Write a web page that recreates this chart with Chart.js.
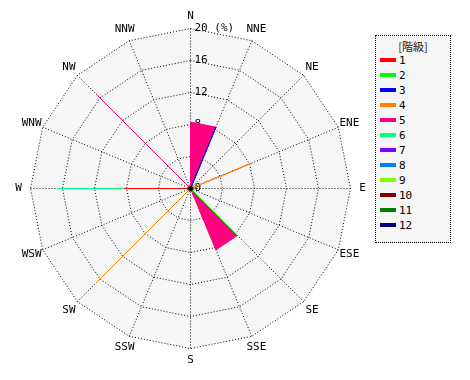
<!DOCTYPE html>
<html><head><meta charset="utf-8">
<script src="https://cdn.jsdelivr.net/npm/chart.js@4"></script>
<style>
html,body{margin:0;padding:0;background:#fff;}
#wrap{position:relative;width:470px;height:380px;}
#legend{position:absolute;left:375px;top:35px;width:74px;height:206px;border:1px dotted #000;background:#f6f6f6;font:11px "DejaVu Sans Mono",monospace;color:#000;}
#legend .title{position:absolute;left:0;width:74px;top:2px;text-align:center;font:11px "Noto Sans CJK JP","DejaVu Sans Mono",monospace;color:#222;}
#legend .row{position:absolute;left:4px;height:12px;line-height:12px;}
#legend .sw{display:inline-block;width:16px;height:4px;vertical-align:middle;margin-right:3px;position:relative;top:-1px;}
</style>
</head><body>
<div id="wrap">
<canvas id="c" width="470" height="380"></canvas>
<div id="legend"><div class="title">[階級]</div></div>
</div>
<script>
const directions = ['N','NNE','NE','ENE','E','ESE','SE','SSE','S','SSW','SW','WSW','W','WNW','NW','NNW'];
const classLabels = ['1','2','3','4','5','6','7','8','9','10','11','12'];
const classColors = ['#ff0000','#00ff00','#0000ff','#ff8000','#ff0080','#00ff80','#8000ff','#0080ff','#80ff00','#800000','#008000','#000080'];
const tickValues = [0,4,8,12,16,20];
const tickLabels = ['0','4','8','12','16','20 (%)'];
//                 N    NNE  NE   ENE  E    ESE  SE   SSE  S    SSW  SW    WSW  W     WNW  NW    NNW
const class1  = [0,   0,   0,   0,   0,   0,   0,   0,   0,   0,   0,    0,   8.3,  0,   0,    0];
const class2  = [0,   0,   0,   0,   0,   0,   8.3, 0,   0,   0,   0,    0,   0,    0,   0,    0];
const class3  = [0,   8.3, 0,   0,   0,   0,   0,   0,   0,   0,   0,    0,   0,    0,   0,    0];
const class4  = [0,   0,   0,   8.3, 0,   0,   0,   0,   0,   0,   16.7, 0,   0,    0,   0,    0];
const class5  = [8.3, 8.3, 0,   0,   0,   0,   8.3, 8.3, 0,   0,   0,    0,   0,    0,   16.7, 0];
const class6  = [0,   0,   0,   0,   0,   0,   0,   0,   0,   0,   0,    0,   16.7, 0,   0,    0];
const class7  = [0,0,0,0,0,0,0,0,0,0,0,0,0,0,0,0];
const class8  = [0,0,0,0,0,0,0,0,0,0,0,0,0,0,0,0];
const class9  = [0,0,0,0,0,0,0,0,0,0,0,0,0,0,0,0];
const class10 = [0,0,0,0,0,0,0,0,0,0,0,0,0,0,0,0];
const class11 = [0,0,0,0,0,0,0,0,0,0,0,0,0,0,0,0];
const class12 = [0,0,0,0,0,0,0,0,0,0,0,0,0,0,0,0];
const classValues = [class1,class2,class3,class4,class5,class6,class7,class8,class9,class10,class11,class12];

// HTML legend
const lg = document.getElementById('legend');
classLabels.forEach((l,i)=>{
  const r = document.createElement('div');
  r.className='row'; r.style.top=(19+i*15)+'px';
  r.innerHTML='<span class="sw" style="background:'+classColors[i]+'"></span>'+l;
  lg.appendChild(r);
});

const MONO = '"DejaVu Sans Mono", monospace';
const roseText = {
  id:'roseText',
  beforeDraw(chart){ chart.ctx.save(); chart.ctx.translate(0.5,0.5); },
  beforeDatasetsDraw(chart){
    const s = chart.scales.r, ctx = chart.ctx;
    ctx.save();
    ctx.font = '11px '+MONO; ctx.fillStyle='#000';
    ctx.textAlign='left'; ctx.textBaseline='middle';
    tickValues.forEach((v,i)=>{
      const d = s.getDistanceFromCenterForValue(v);
      ctx.fillText(tickLabels[i], s.xCenter+4, s.yCenter-d);
    });
    ctx.restore();
  },
  afterDatasetsDraw(chart){
    const s = chart.scales.r, ctx = chart.ctx;
    ctx.save();
    ctx.fillStyle='#000';
    ctx.beginPath(); ctx.arc(s.xCenter, s.yCenter, 2.5, 0, Math.PI*2); ctx.fill();
    ctx.font = '11px '+MONO;
    ctx.textAlign='center'; ctx.textBaseline='middle';
    directions.forEach((d,i)=>{
      const p = s.getPointPosition(i, s.drawingArea+12);
      ctx.fillText(d, p.x, p.y);
    });
    ctx.restore();
  },
  afterDraw(chart){ chart.ctx.restore(); }
};

new Chart(document.getElementById('c'), {
  type:'radar',
  data:{
    labels: directions,
    datasets: classValues.map((vals,i)=>({
      label: classLabels[i],
      data: vals,
      borderColor: classColors[i],
      backgroundColor: classColors[i],
      borderWidth: 1,
      pointRadius: 0,
      pointHoverRadius: 0,
      fill: 'origin',
      tension: 0
    }))
  },
  options:{
    responsive:false,
    animation:false,
    layout:{padding:{left:30,top:28,right:120,bottom:32}},
    plugins:{legend:{display:false},tooltip:{enabled:false}},
    scales:{
      r:{
        min:0,max:20,
        backgroundColor:'#f6f6f6',
        ticks:{display:false,stepSize:4},
        pointLabels:{display:false},
        grid:{color:'#000',lineWidth:1},
        border:{dash:[1,2]},
        angleLines:{color:'#000',lineWidth:1,borderDash:[1,2]}
      }
    }
  },
  plugins:[roseText]
});
</script>
</body></html>
